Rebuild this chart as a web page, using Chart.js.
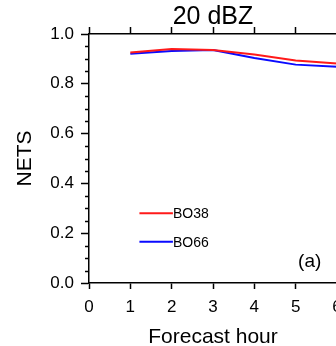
<!DOCTYPE html>
<html>
<head>
<meta charset="utf-8">
<script src="https://cdn.jsdelivr.net/npm/chart.js@4"></script>
<style>
	html, body { margin: 0; padding: 0; background: #fff; overflow: hidden; }
	#wrap { width: 350px; height: 346px; }
</style>
</head>
<body>
<div id="wrap"><canvas id="netsChart" width="350" height="346"></canvas></div>
<script>
const hours = [1, 2, 3, 4, 5, 6];
const bo38 = [0.926, 0.940, 0.936, 0.918, 0.894, 0.882];
const bo66 = [0.921, 0.932, 0.936, 0.904, 0.877, 0.868];
const seriesLabels = ['BO38', 'BO66'];
const yTicks = [0, 0.2, 0.4, 0.6, 0.8, 1.0];
const minorStep = 0.05;

const FONT = '"Liberation Sans", Arial, Helvetica, sans-serif';

const toPoints = vals => vals.map((v, i) => ({ x: hours[i], y: v }));

// minor ticks on the y axis, the legend inside the plot and the panel tag
const extrasPlugin = {
	id: 'extras',
	afterDraw(chart) {
		const ctx = chart.ctx;
		const xs = chart.scales.x;
		const ys = chart.scales.y;
		const left = chart.chartArea.left;

		ctx.save();
		ctx.strokeStyle = '#000';
		ctx.lineWidth = 1.5;
		for (let v = 0; v <= 1.0001; v += minorStep) {
			if (yTicks.some(t => Math.abs(t - v) < 1e-6)) continue;
			const py = Math.round(ys.getPixelForValue(v)) + 0.5;
			ctx.beginPath();
			ctx.moveTo(left - 4, py);
			ctx.lineTo(left, py);
			ctx.stroke();
		}

		const legendY = [0.28, 0.166];
		chart.data.datasets.forEach((ds, i) => {
			const py = ys.getPixelForValue(legendY[i]);
			const x0 = xs.getPixelForValue(1.22);
			const x1 = xs.getPixelForValue(2.03);
			ctx.strokeStyle = ds.borderColor;
			ctx.lineWidth = 2;
			ctx.beginPath();
			ctx.moveTo(x0, py);
			ctx.lineTo(x1, py);
			ctx.stroke();
			ctx.fillStyle = '#000';
			ctx.font = '14px ' + FONT;
			ctx.textAlign = 'left';
			ctx.textBaseline = 'middle';
			ctx.fillText(ds.label, x1, py + 1);
		});

		ctx.font = '19px ' + FONT;
		ctx.textAlign = 'center';
		ctx.textBaseline = 'middle';
		ctx.fillStyle = '#000';
		ctx.fillText('(a)', xs.getPixelForValue(5.34), ys.getPixelForValue(0.084));
		ctx.restore();
	}
};

new Chart(document.getElementById('netsChart'), {
	type: 'line',
	data: {
		datasets: [
			{
				label: seriesLabels[0],
				data: toPoints(bo38),
				borderColor: '#ff1a1a',
				borderWidth: 2,
				pointRadius: 0,
				fill: false,
				tension: 0
			},
			{
				label: seriesLabels[1],
				data: toPoints(bo66),
				borderColor: '#0a0aff',
				borderWidth: 2,
				pointRadius: 0,
				fill: false,
				tension: 0
			}
		]
	},
	options: {
		responsive: false,
		devicePixelRatio: 1,
		animation: false,
		layout: { padding: { left: 0, right: 13, top: 0, bottom: 0 } },
		plugins: {
			legend: { display: false },
			tooltip: { enabled: false },
			title: {
				display: true,
				text: '20 dBZ',
				fullSize: false,
				color: '#000',
				font: { family: FONT, size: 25, weight: 'normal', lineHeight: 1.2 },
				padding: { top: 2, bottom: 0 }
			}
		},
		scales: {
			x: {
				type: 'linear',
				position: 'bottom',
				min: 0,
				max: 6,
				afterFit: s => { s.height = 63; },
				ticks: {
					stepSize: 1,
					color: '#000',
					padding: 8,
					maxRotation: 0,
					font: { family: FONT, size: 17 }
				},
				grid: { drawOnChartArea: false, tickLength: 6, tickColor: '#000', tickWidth: 1.5 },
				border: { color: '#000', width: 1.5 },
				title: {
					display: true,
					text: 'Forecast hour',
					color: '#000',
					font: { family: FONT, size: 21, lineHeight: 1 },
					padding: { top: 0, bottom: -2 }
				}
			},
			x2: {
				type: 'linear',
				position: 'top',
				min: 0,
				max: 6,
				afterFit: s => { s.height = 2; },
				ticks: { stepSize: 1, display: false },
				grid: { drawOnChartArea: false, tickLength: 7, tickColor: '#000', tickWidth: 1.5 },
				border: { color: '#000', width: 1.5 }
			},
			y: {
				min: 0,
				max: 1,
				afterFit: s => { s.width = 89; },
				afterBuildTicks: s => { s.ticks = yTicks.map(v => ({ value: v })); },
				ticks: {
					color: '#000',
					padding: 7,
					font: { family: FONT, size: 17 },
					callback: v => v.toFixed(1)
				},
				grid: { drawOnChartArea: false, tickLength: 8, tickColor: '#000', tickWidth: 1.5 },
				border: { color: '#000', width: 1.5 },
				title: {
					display: true,
					text: 'NETS',
					color: '#000',
					font: { family: FONT, size: 21, lineHeight: 1 },
					padding: { top: 15, bottom: 0 }
				}
			}
		}
	},
	plugins: [extrasPlugin]
});
</script>
</body>
</html>
